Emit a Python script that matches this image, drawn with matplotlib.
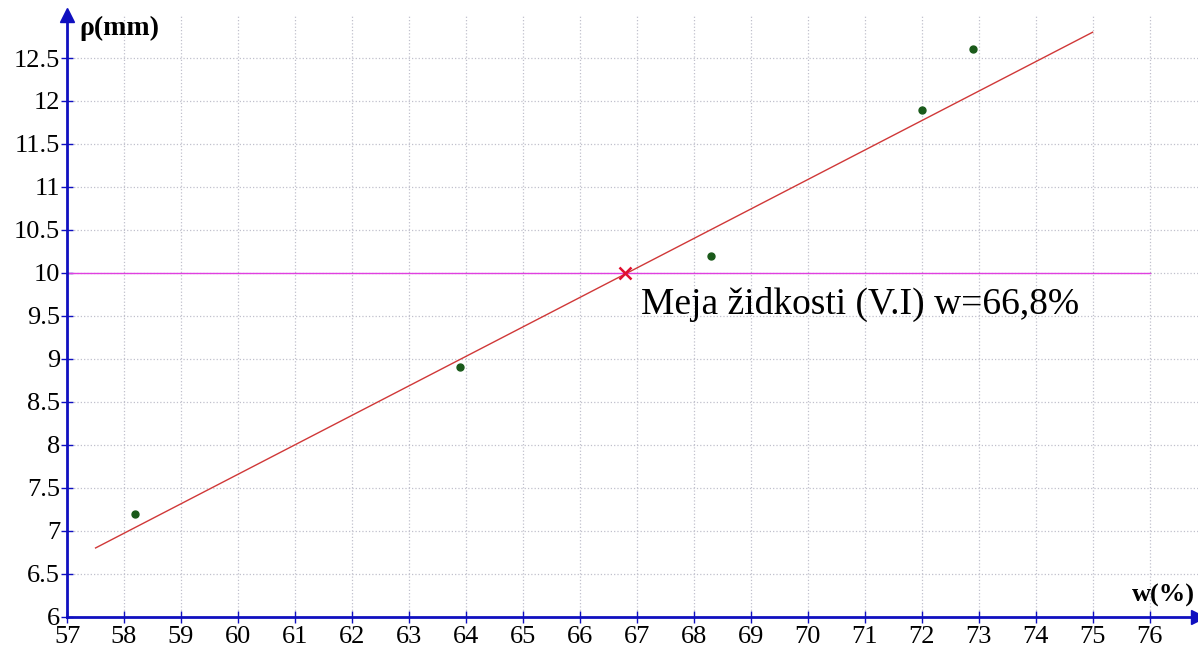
import numpy as np
import matplotlib.pyplot as plt

# meritve
w = [58.2, 63.9, 68.3, 72.0, 72.9]
rho = [7.2, 8.9, 10.2, 11.9, 12.6]

# regresijska premica (konci)
fit_w = [57.5, 75.0]
fit_rho = [6.8, 12.8]

# meja zidkosti
w_l = 66.8
rho_l = 10.0

xticks = list(range(57, 77))
yticks = [6, 6.5, 7, 7.5, 8, 8.5, 9, 9.5, 10, 10.5, 11, 11.5, 12, 12.5]

plt.rcParams['font.family'] = ['Liberation Serif', 'DejaVu Serif']

fig = plt.figure(figsize=(11.98, 6.54), dpi=100)
ax = fig.add_axes([0.056, 0.057, 0.944, 0.92])

axcol = '#1010c0'
ax.set_xlim(57, 76.85)
ax.set_ylim(6, 13.0)
ax.set_xticks(xticks)
ax.set_yticks(yticks)
ax.set_yticklabels([('%g' % v) for v in yticks])
ax.grid(True, color='#c0c0cc', linestyle=':', linewidth=0.9)
for s in ['top', 'right']:
    ax.spines[s].set_visible(False)
for s in ['left', 'bottom']:
    ax.spines[s].set_color(axcol)
    ax.spines[s].set_linewidth(2)
ax.tick_params(direction='inout', length=8, width=1, color=axcol,
               labelsize=19)
ax.tick_params(axis='x', pad=3)
ax.tick_params(axis='y', pad=1)

# puscici na koncu osi
ax.plot(1, 0, '>', color=axcol, markersize=10, transform=ax.transAxes, clip_on=False)
ax.plot(0, 1, '^', color=axcol, markersize=10, transform=ax.transAxes, clip_on=False)

ax.plot([57, 76], [rho_l, rho_l], color='#e040e0', linewidth=1)
ax.plot(fit_w, fit_rho, color='#d03838', linewidth=1)
ax.plot(w, rho, 'o', color='#1a5a1a', markersize=5)
ax.plot(w_l, rho_l, 'x', color='#e01030', markersize=9, markeredgewidth=1.8)

ax.text(67.07, 9.63, 'Meja židkosti (V.I) w=66,8%', fontsize=27,
        va='center', ha='left')

ax.text(57.22, 12.85, 'ρ(mm)', fontsize=20, fontweight='bold', va='center')
ax.text(76.8, 6.25, 'w(%)', fontsize=19, fontweight='bold', ha='right', va='center')

fig.savefig('out.png', dpi=100)
